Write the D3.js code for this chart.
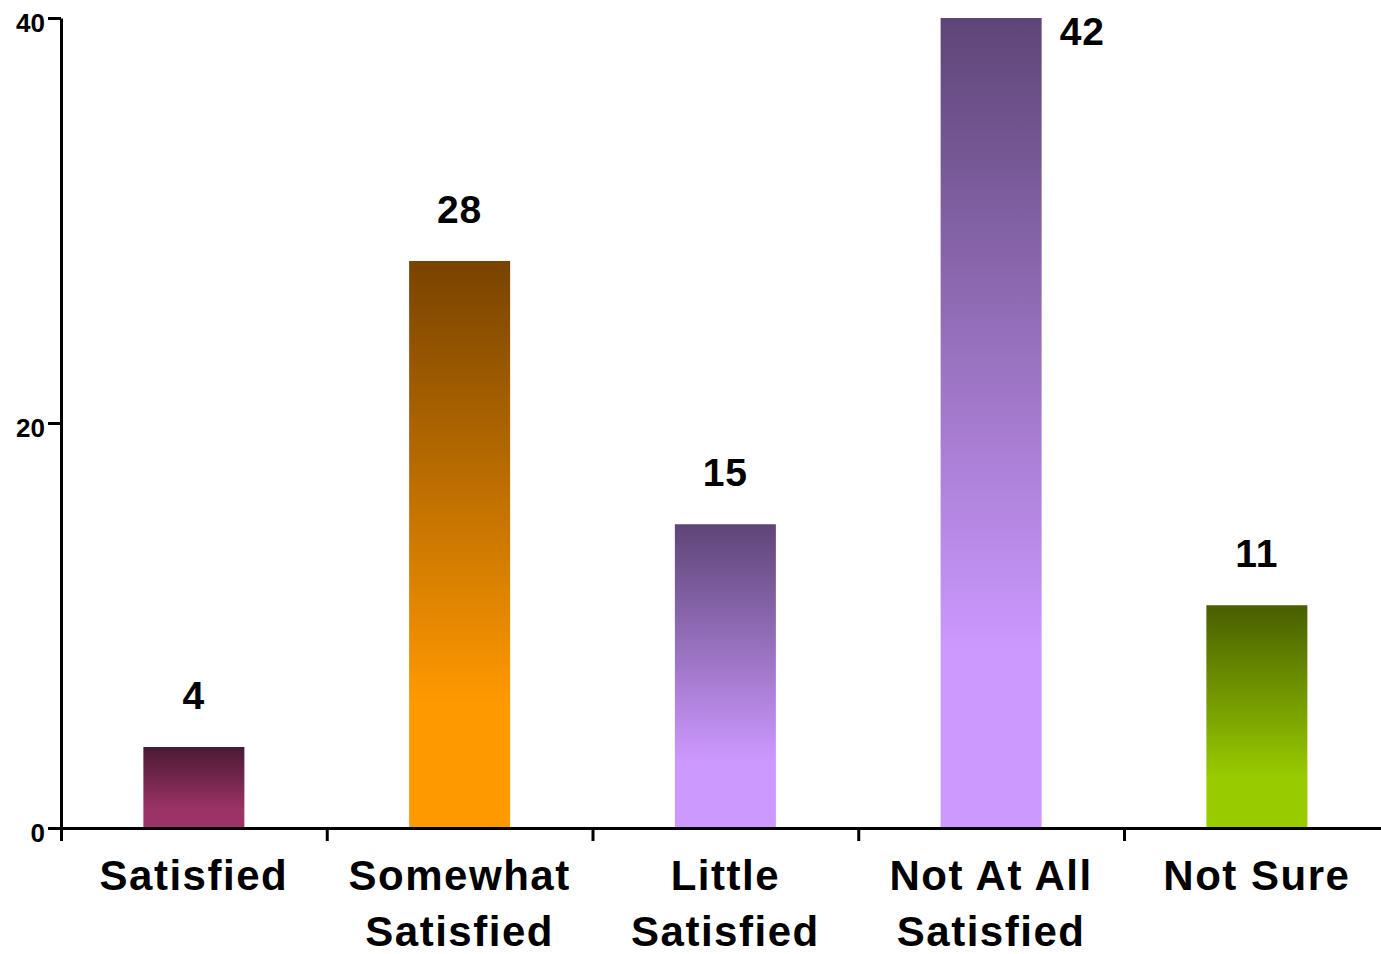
<!DOCTYPE html>
<html>
<head>
<meta charset="utf-8">
<script src="https://cdn.jsdelivr.net/npm/d3@7"></script>
<style>
  html, body { margin: 0; padding: 0; background: #fff; }
  svg { display: block; font-family: "Liberation Sans", Arial, sans-serif; }
</style>
</head>
<body>
<svg id="chart" width="1381" height="954"></svg>
<script>
// ---- data ----
const categories = ["Satisfied", "Somewhat Satisfied", "Little Satisfied", "Not At All Satisfied", "Not Sure"];
const categoryLines = [["Satisfied"], ["Somewhat", "Satisfied"], ["Little", "Satisfied"], ["Not At All", "Satisfied"], ["Not Sure"]];
const values = [4, 28, 15, 42, 11];
const yTicks = [0, 20, 40];
const yMax = 40;
const lightColors = ["#9c3366", "#ff9900", "#cc99ff", "#cc99ff", "#99cc00"];
const darkColors  = ["#4a1a33", "#784300", "#5e4577", "#5e4577", "#485e00"];

// ---- layout ----
const svg = d3.select("#chart");
const x0 = 61, step = 265.75, barW = 101;
const x = d3.scaleBand().domain(categories).range([x0, x0 + step * categories.length]).padding(0);
const y = d3.scaleLinear().domain([0, yMax]).range([828, 18]);
const xb = d3.scaleLinear().domain([0, categories.length]).range(x.range());

const defs = svg.append("defs");
categories.forEach((c, i) => {
  const g = defs.append("linearGradient").attr("id", "g" + i)
    .attr("x1", 0).attr("y1", 0).attr("x2", 0).attr("y2", 1);
  g.append("stop").attr("offset", "0%").attr("stop-color", darkColors[i]);
  g.append("stop").attr("offset", "78%").attr("stop-color", lightColors[i]);
  g.append("stop").attr("offset", "100%").attr("stop-color", lightColors[i]);
});

// bars
svg.append("g").selectAll("rect").data(values).join("rect")
  .attr("x", (d, i) => x(categories[i]) + x.bandwidth() / 2 - barW / 2)
  .attr("y", d => y(Math.min(d, yMax)))
  .attr("width", barW)
  .attr("height", d => y(0) - y(Math.min(d, yMax)))
  .attr("fill", (d, i) => `url(#g${i})`);

// value labels
svg.append("g").selectAll("text").data(values).join("text")
  .attr("x", (d, i) => d > yMax ? x(categories[i]) + x.bandwidth() / 2 + barW / 2 + 18 : x(categories[i]) + x.bandwidth() / 2)
  .attr("y", d => d > yMax ? y(yMax) + 27 : y(d) - 38)
  .attr("text-anchor", d => d > yMax ? "start" : "middle")
  .attr("font-size", 39).attr("font-weight", "bold").attr("letter-spacing", 1)
  .text(d => d);

// y axis
const yAxis = svg.append("g").attr("transform", `translate(${x0},0)`)
  .call(d3.axisLeft(y).tickValues(yTicks).tickSize(13).tickSizeOuter(0).tickPadding(3));
yAxis.select(".domain").attr("stroke-width", 3);
yAxis.selectAll(".tick line").attr("stroke-width", 3);
yAxis.selectAll(".tick text").attr("font-size", 26).attr("font-weight", "bold")
  .attr("font-family", "'Liberation Sans', Arial, sans-serif").attr("dy", "0.5em").attr("fill", "#000");

// x axis (ticks at category boundaries)
const xAxis = svg.append("g").attr("transform", `translate(0,${y(0)})`)
  .call(d3.axisBottom(xb).ticks(categories.length).tickSize(13).tickSizeOuter(0).tickFormat(""));
xAxis.select(".domain").attr("stroke-width", 3);
xAxis.selectAll(".tick line").attr("stroke-width", 3);

// category labels
const lab = svg.append("g").selectAll("text").data(categories).join("text")
  .attr("x", d => x(d) + x.bandwidth() / 2)
  .attr("y", 890)
  .attr("text-anchor", "middle")
  .attr("font-size", 42).attr("font-weight", "bold").attr("letter-spacing", 1.5);
lab.each(function(d, i) {
  const t = d3.select(this);
  categoryLines[i].forEach((ln, j) => {
    t.append("tspan").attr("x", x(d) + x.bandwidth() / 2).attr("dy", j === 0 ? 0 : 56).text(ln);
  });
});
</script>
</body>
</html>
